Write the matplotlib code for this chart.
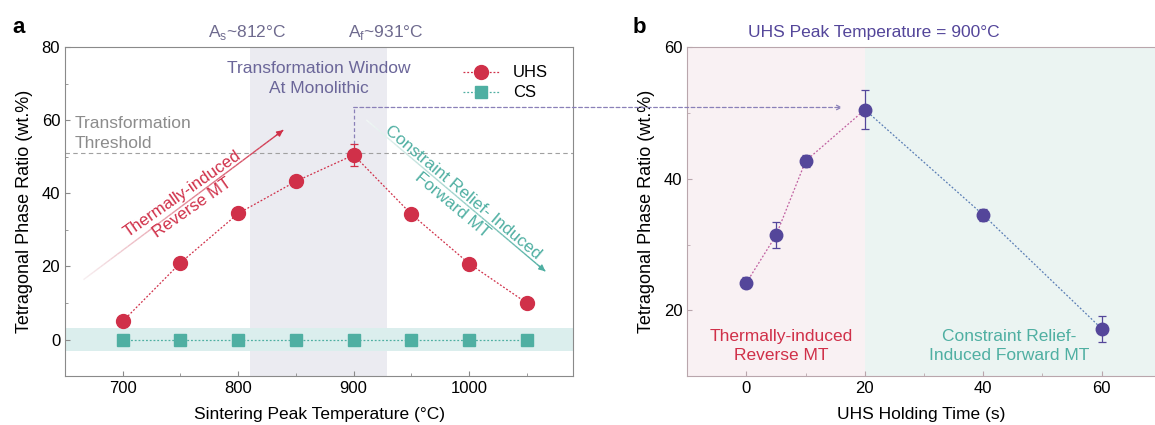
import matplotlib
matplotlib.use("Agg")
import matplotlib.pyplot as plt
import numpy as np
from matplotlib.collections import LineCollection
from matplotlib.colors import to_rgb
from matplotlib.lines import Line2D
from matplotlib.patches import ConnectionPatch
from matplotlib.ticker import MultipleLocator

plt.rcParams["font.family"] = ["Liberation Sans", "DejaVu Sans"]
plt.rcParams["font.size"] = 12

# ---- data: panel a ----
temps = [700, 750, 800, 850, 900, 950, 1000, 1050]
uhs = [5.0, 21.0, 34.5, 43.3, 50.5, 34.3, 20.8, 10.0]
uhs_err = [0.6, 0.6, 1.5, 1.2, 3.0, 1.5, 0.6, 0.5]
cs = [0, 0, 0, 0, 0, 0, 0, 0]
window = (810, 929)
threshold = 51

# ---- data: panel b ----
hold_t = [0, 5, 10, 20, 40, 60]
hold_val = [24.2, 31.4, 42.7, 50.5, 34.5, 17.2]
hold_err = [0.8, 2.0, 0.9, 3.0, 0.9, 2.0]

RED = "#d03049"
TEAL = "#4fafa2"
PURPLE = "#54469a"
WIN = "#6b6699"
GRAY = "#8c8c8c"

fig = plt.figure(figsize=(11.55, 4.25), dpi=100)
ax_a = fig.add_axes([0.0563, 0.115, 0.4398, 0.774])
ax_b = fig.add_axes([0.595, 0.115, 0.405, 0.774])


def grad_arrow(ax, start, end, c0, c1, n=60, lw=1.0):
    xs = np.linspace(start[0], end[0], n)
    ys = np.linspace(start[1], end[1], n)
    pts = np.column_stack([xs, ys]).reshape(-1, 1, 2)
    segs = np.concatenate([pts[:-1], pts[1:]], axis=1)
    a, b = np.array(to_rgb(c0)), np.array(to_rgb(c1))
    cols = [a + (b - a) * f for f in np.linspace(0, 1, n - 1)]
    ax.add_collection(LineCollection(segs, colors=cols, linewidths=lw, zorder=2))
    ax.annotate("", xy=end, xytext=(xs[-3], ys[-3]),
                arrowprops=dict(arrowstyle="-|>", color=c1, lw=lw,
                                mutation_scale=9, shrinkA=0, shrinkB=0))


# ---------------- panel a ----------------
ax = ax_a
ax.axvspan(*window, color="#ebebf1", zorder=0, lw=0)
ax.axhspan(-3, 3.2, color="#dbeeed", zorder=0, lw=0)
ax.axhline(threshold, color="#a0a0a0", ls=(0, (4, 3)), lw=0.8, zorder=1)

ax.plot(temps, uhs, ls=(0, (1.5, 1.5)), color=RED, lw=0.9, zorder=3)
ax.errorbar(temps, uhs, yerr=uhs_err, fmt="o", color=RED, ms=10,
            ecolor=RED, elinewidth=0.9, capsize=3, capthick=0.9, zorder=4)
ax.plot(temps, cs, ls=(0, (1.5, 1.5)), color=TEAL, lw=0.9, zorder=3)
ax.plot(temps, cs, "s", color=TEAL, ms=9, zorder=4)

grad_arrow(ax, (666, 16.4), (839, 57.3), "#f7eef0", RED)
grad_arrow(ax, (911, 60.1), (1066, 18.7), "#f1f7f5", TEAL)

ax.text(756, 38.0, "Thermally-induced\nReverse MT", color=RED, rotation=35,
        ha="center", va="center", rotation_mode="anchor", fontsize=12.2,
        linespacing=1.15)
ax.text(990, 38.6, "Constraint Relief- Induced\nForward MT", color=TEAL,
        rotation=-40, ha="center", va="center", rotation_mode="anchor",
        fontsize=12.3, linespacing=1.15)
ax.text(658, 61.2, "Transformation\nThreshold", color=GRAY, ha="left",
        va="top", fontsize=12.5, linespacing=1.4)
ax.text(870, 76.2, "Transformation Window\nAt Monolithic", color=WIN,
        ha="center", va="top", fontsize=12.5, linespacing=1.4)
ax.text(808, 84.1, "A$_\\mathregular{s}$~812°C", color="#6e6a8e",
        ha="center", va="center", fontsize=12.5)
ax.text(928, 84.1, "A$_\\mathregular{f}$~931°C", color="#6e6a8e",
        ha="center", va="center", fontsize=12.5)

handles = [
    Line2D([], [], color=RED, ls=(0, (1.5, 1.5)), lw=0.9, marker="o", ms=10),
    Line2D([], [], color=TEAL, ls=(0, (1.5, 1.5)), lw=0.9, marker="s", ms=9),
]
ax.legend(handles, ["UHS", "CS"], loc="upper right",
          bbox_to_anchor=(0.98, 0.99), frameon=False, fontsize=12,
          handlelength=2.2, labelspacing=0.3)

ax.set_xlim(650, 1090)
ax.set_ylim(-10, 80)
ax.set_xticks([700, 800, 900, 1000])
ax.xaxis.set_minor_locator(MultipleLocator(50))
ax.yaxis.set_major_locator(MultipleLocator(20))
ax.yaxis.set_minor_locator(MultipleLocator(10))
ax.set_xlabel("Sintering Peak Temperature (°C)", fontsize=12.5, labelpad=8)
ax.set_ylabel("Tetragonal Phase Ratio (wt.%)", fontsize=13, labelpad=6)
for s in ax.spines.values():
    s.set_color("#8a8a8a")
ax.tick_params(direction="in", which="both", color="#8a8a8a", labelsize=12)
ax.tick_params(which="minor", length=2.5)

# ---------------- panel b ----------------
ax = ax_b
ax.axvspan(-10, 20, color="#f9f1f3", zorder=0, lw=0)
ax.axvspan(20, 70, color="#ebf4f2", zorder=0, lw=0)
ax.plot(hold_t[:4], hold_val[:4], ls=(0, (1.5, 1.5)), color="#c05fa0",
        lw=0.9, zorder=3)
ax.plot(hold_t[3:], hold_val[3:], ls=(0, (1.5, 1.5)), color="#5a7db5",
        lw=0.9, zorder=3)
ax.errorbar(hold_t, hold_val, yerr=hold_err, fmt="o", color=PURPLE, ms=9,
            ecolor=PURPLE, elinewidth=0.9, capsize=3, capthick=0.9, zorder=4)

ax.text(5.8, 14.6, "Thermally-induced\nReverse MT", color=RED, ha="center",
        va="center", fontsize=12.5, linespacing=1.3)
ax.text(44.3, 14.6, "Constraint Relief-\nInduced Forward MT", color=TEAL,
        ha="center", va="center", fontsize=12.5, linespacing=1.3)
ax.text(21.5, 62.3, "UHS Peak Temperature = 900°C", color=PURPLE,
        ha="center", va="center", fontsize=12.5)

ax.set_xlim(-10, 69)
ax.set_ylim(10, 60)
ax.set_xticks([0, 20, 40, 60])
ax.xaxis.set_minor_locator(MultipleLocator(10))
ax.set_yticks([20, 40, 60])
ax.yaxis.set_minor_locator(MultipleLocator(10))
ax.set_xlabel("UHS Holding Time (s)", fontsize=12.5, labelpad=8)
ax.set_ylabel("Tetragonal Phase Ratio (wt.%)", fontsize=13, labelpad=6)
ax.spines["right"].set_visible(False)
for s in ("left", "bottom", "top"):
    ax.spines[s].set_color("#b9a6ac")
ax.tick_params(direction="in", which="both", color="#b9a6ac", labelsize=12)
ax.tick_params(which="minor", length=2.5)

# ---- dashed link from panel a (900 °C) to panel b (20 s) ----
link_y = 63.5
ax_a.plot([900, 900], [53.6, link_y], color="#8a80b8", ls=(0, (3, 2)),
          lw=0.9, zorder=2)
disp = ax_a.transData.transform((900, link_y))
yb = ax_b.transData.inverted().transform(disp)[1]
con = ConnectionPatch(xyA=(900, link_y), coordsA=ax_a.transData,
                      xyB=(16.2, yb), coordsB=ax_b.transData,
                      arrowstyle="->", color="#8a80b8", ls=(0, (3, 2)),
                      lw=0.9, mutation_scale=8, zorder=5)
fig.add_artist(con)

fig.text(0.011, 0.935, "a", fontsize=16, fontweight="bold", va="center")
fig.text(0.548, 0.935, "b", fontsize=16, fontweight="bold", va="center")

fig.savefig("out.png", dpi=100)
